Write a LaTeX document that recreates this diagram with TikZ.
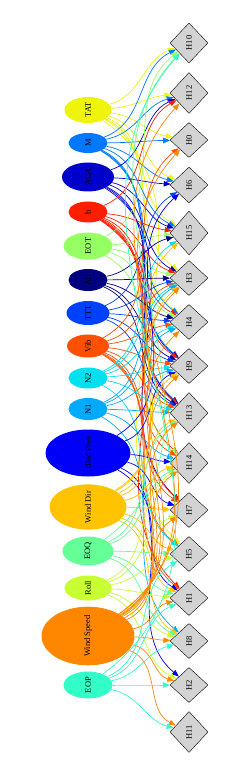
\documentclass[tikz,border=0pt]{standalone}
\usepackage{fontspec}
\setmainfont{Liberation Serif}
\usetikzlibrary{arrows.meta,shapes.geometric,calc}
\definecolor{hourgray}{RGB}{211,211,211}
\definecolor{cTAT}{RGB}{238,245,10}
\definecolor{cM}{RGB}{0,120,255}
\definecolor{cACA}{RGB}{0,0,205}
\definecolor{cb}{RGB}{255,30,0}
\definecolor{cEOT}{RGB}{150,255,100}
\definecolor{cAb}{RGB}{0,0,128}
\definecolor{cTTT}{RGB}{0,64,255}
\definecolor{cVib}{RGB}{255,80,0}
\definecolor{cNtwo}{RGB}{0,225,240}
\definecolor{cNone}{RGB}{0,170,255}
\definecolor{cBlad}{RGB}{0,0,250}
\definecolor{cWDir}{RGB}{255,195,0}
\definecolor{cEOQ}{RGB}{100,255,150}
\definecolor{cRoll}{RGB}{200,255,50}
\definecolor{cWSpd}{RGB}{255,135,0}
\definecolor{cEOP}{RGB}{50,255,200}

\begin{document}
\begin{tikzpicture}[x=1pt,y=-1pt,
    feat/.style={ellipse, draw=none, inner sep=0pt, font=\fontsize{8.5}{9}\selectfont},
    hour/.style={diamond, draw=black, fill=hourgray, inner sep=0pt, minimum width=38pt, font=\fontsize{8.5}{9}\selectfont},
    link/.style={line width=0.7pt, -{Triangle[length=7pt,width=5.5pt]}}]
    \useasboundingbox (0,0) rectangle (249,775);
    % Features: ellipses on the left
    \node[feat, fill=cTAT, minimum width=47pt, minimum height=26pt] (TAT) at (88,110) {\rotatebox{90}{TAT}};
    \node[feat, fill=cM, minimum width=39pt, minimum height=20pt] (M) at (88,143) {\rotatebox{90}{M}};
    \node[feat, fill=cACA, minimum width=52pt, minimum height=29pt] (ACA) at (88,177) {\rotatebox{90}{ACA}};
    \node[feat, fill=cb, minimum width=39pt, minimum height=21pt] (b) at (88,212) {\rotatebox{90}{b}};
    \node[feat, fill=cEOT, minimum width=49pt, minimum height=27pt] (EOT) at (88,246) {\rotatebox{90}{EOT}};
    \node[feat, fill=cAb, minimum width=39pt, minimum height=22pt] (Ab) at (88,280) {\rotatebox{90}{Ab}};
    \node[feat, fill=cTTT, minimum width=43pt, minimum height=24pt] (TTT) at (88,313) {\rotatebox{90}{TTT}};
    \node[feat, fill=cVib, minimum width=42pt, minimum height=23pt] (Vib) at (88,346) {\rotatebox{90}{Vib}};
    \node[feat, fill=cNtwo, minimum width=39pt, minimum height=21pt] (N2) at (88,378) {\rotatebox{90}{N2}};
    \node[feat, fill=cNone, minimum width=39pt, minimum height=22pt] (N1) at (88,409) {\rotatebox{90}{N1}};
    \node[feat, fill=cBlad, minimum width=85pt, minimum height=47pt] (BladPres) at (88,453) {\rotatebox{90}{Blad Pres}};
    \node[feat, fill=cWDir, minimum width=77pt, minimum height=42pt] (WindDir) at (88,507) {\rotatebox{90}{Wind Dir}};
    \node[feat, fill=cEOQ, minimum width=51pt, minimum height=29pt] (EOQ) at (88,551) {\rotatebox{90}{EOQ}};
    \node[feat, fill=cRoll, minimum width=47pt, minimum height=25pt] (Roll) at (88,588) {\rotatebox{90}{Roll}};
    \node[feat, fill=cWSpd, minimum width=93pt, minimum height=51pt] (WindSpeed) at (88,636) {\rotatebox{90}{Wind Speed}};
    \node[feat, fill=cEOP, minimum width=49pt, minimum height=27pt] (EOP) at (88,685) {\rotatebox{90}{EOP}};
    % Hours: diamonds on the right
    \node[hour, minimum height=40pt] (H10) at (189,43) {\rotatebox{90}{H10}};
    \node[hour, minimum height=41pt] (H12) at (189,93) {\rotatebox{90}{H12}};
    \node[hour, minimum height=35pt] (H0) at (189,140) {\rotatebox{90}{H0}};
    \node[hour, minimum height=36pt] (H6) at (189,185) {\rotatebox{90}{H6}};
    \node[hour, minimum height=44pt] (H15) at (189,233) {\rotatebox{90}{H15}};
    \node[hour, minimum height=35pt] (H3) at (189,278) {\rotatebox{90}{H3}};
    \node[hour, minimum height=35pt] (H4) at (189,322) {\rotatebox{90}{H4}};
    \node[hour, minimum height=35pt] (H9) at (189,366) {\rotatebox{90}{H9}};
    \node[hour, minimum height=41pt] (H13) at (189,413) {\rotatebox{90}{H13}};
    \node[hour, minimum height=41pt] (H14) at (189,463) {\rotatebox{90}{H14}};
    \node[hour, minimum height=35pt] (H7) at (189,510) {\rotatebox{90}{H7}};
    \node[hour, minimum height=35pt] (H5) at (189,554) {\rotatebox{90}{H5}};
    \node[hour, minimum height=35pt] (H1) at (189,598) {\rotatebox{90}{H1}};
    \node[hour, minimum height=35pt] (H8) at (189,641) {\rotatebox{90}{H8}};
    \node[hour, minimum height=35pt] (H2) at (189,685) {\rotatebox{90}{H2}};
    \node[hour, minimum height=41pt] (H11) at (189,732) {\rotatebox{90}{H11}};
    % Links: each feature to its hours, coloured like the feature
    \foreach \s/\c/\ts in {TAT/cTAT/{H10,H12,H0,H6,H15,H3,H4,H5},
                           M/cM/{H10,H12,H0,H6,H15,H4,H9,H13},
                           ACA/cACA/{H6,H15,H12,H3,H9,H13,H7},
                           b/cb/{H12,H15,H3,H4,H9,H13,H14,H7,H1},
                           EOT/cEOT/{H10,H15,H3,H4,H14},
                           Ab/cAb/{H15,H3,H4,H9,H13},
                           TTT/cTTT/{H6,H4,H9,H13,H3},
                           Vib/cVib/{H0,H3,H4,H9,H13,H14,H7,H5,H1},
                           N2/cNtwo/{H15,H3,H4,H9,H13,H5},
                           N1/cNone/{H3,H4,H9,H14,H13,H8},
                           BladPres/cBlad/{H6,H9,H14,H7,H1,H2},
                           WindDir/cWDir/{H15,H3,H9,H13,H14,H7,H5,H1,H8},
                           EOQ/cEOQ/{H10,H13,H14,H5,H1,H8},
                           Roll/cRoll/{H14,H7,H5,H1,H8,H2},
                           WindSpeed/cWSpd/{H12,H0,H3,H4,H9,H13,H14,H7,H1,H8,H2,H11},
                           EOP/cEOP/{H10,H5,H1,H8,H2,H11}}
      \foreach \t in \ts
        \draw[link, \c] let \p1=(\s), \p2=(\t), \n1={atan2(\y2-\y1,\x2-\x1)},
            \n2={0.45*\n1}, \n3={180+0.6*\n1} in (\s) to[out=\n2, in=\n3] (\t);
\end{tikzpicture}
\end{document}
